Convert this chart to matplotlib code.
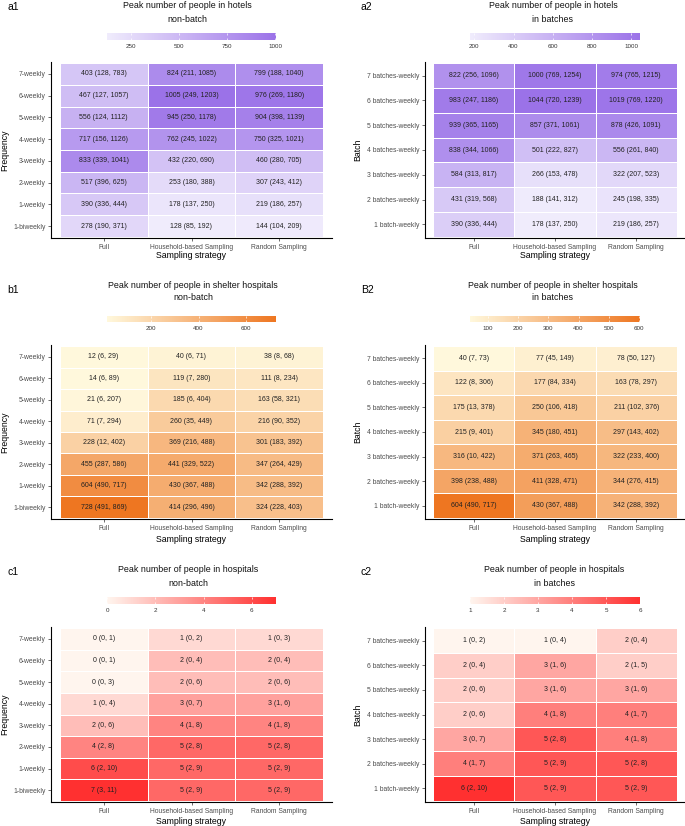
import matplotlib
matplotlib.use("Agg")
import matplotlib.pyplot as plt
import numpy as np
from matplotlib.colors import LinearSegmentedColormap, Normalize

plt.rcParams['font.family'] = ['Liberation Sans', 'DejaVu Sans']

W, H = 685, 826

strategies = ["Full", "Household-based Sampling", "Random Sampling"]
freq_labels = ["7-weekly", "6-weekly", "5-weekly", "4-weekly",
               "3-weekly", "2-weekly", "1-weekly", "1-biweekly"]
batch_labels = ["7 batches-weekly", "6 batches-weekly", "5 batches-weekly",
                "4 batches-weekly", "3 batches-weekly", "2 batches-weekly",
                "1 batch-weekly"]

# rows listed top to bottom, columns = strategies
hotel_nb_est = [[403, 824, 799], [467, 1005, 976], [556, 945, 904], [717, 762, 750],
                [833, 432, 460], [517, 253, 307], [390, 178, 219], [278, 128, 144]]
hotel_nb_lo = [[128, 211, 188], [127, 249, 269], [124, 250, 398], [156, 245, 325],
               [339, 220, 280], [396, 180, 243], [336, 137, 186], [190, 85, 104]]
hotel_nb_hi = [[783, 1085, 1040], [1057, 1203, 1180], [1112, 1178, 1139], [1126, 1022, 1021],
               [1041, 690, 705], [625, 388, 412], [444, 250, 257], [371, 192, 209]]

hotel_b_est = [[822, 1000, 974], [983, 1044, 1019], [939, 857, 878], [838, 501, 556],
               [584, 266, 322], [431, 188, 245], [390, 178, 219]]
hotel_b_lo = [[256, 769, 765], [247, 720, 769], [365, 371, 426], [344, 222, 261],
              [313, 153, 207], [319, 141, 198], [336, 137, 186]]
hotel_b_hi = [[1096, 1254, 1215], [1186, 1239, 1220], [1165, 1061, 1091], [1066, 827, 840],
              [817, 478, 523], [568, 312, 335], [444, 250, 257]]

shelter_nb_est = [[12, 40, 38], [14, 119, 111], [21, 185, 163], [71, 260, 216],
                  [228, 369, 301], [455, 441, 347], [604, 430, 342], [728, 414, 324]]
shelter_nb_lo = [[6, 6, 8], [6, 7, 8], [6, 6, 58], [7, 35, 90],
                 [12, 216, 183], [287, 329, 264], [490, 367, 288], [491, 296, 228]]
shelter_nb_hi = [[29, 71, 68], [89, 280, 234], [207, 404, 321], [294, 449, 352],
                 [402, 488, 392], [586, 522, 429], [717, 488, 392], [869, 496, 403]]

shelter_b_est = [[40, 77, 78], [122, 177, 163], [175, 250, 211], [215, 345, 297],
                 [316, 371, 322], [398, 411, 344], [604, 430, 342]]
shelter_b_lo = [[7, 45, 50], [8, 84, 78], [13, 106, 102], [9, 180, 143],
                [10, 263, 233], [238, 328, 276], [490, 367, 288]]
shelter_b_hi = [[73, 149, 127], [306, 334, 297], [378, 418, 376], [401, 451, 402],
                [422, 465, 400], [488, 471, 415], [717, 488, 392]]

hosp_nb_est = [[0, 1, 1], [0, 2, 2], [0, 2, 2], [1, 3, 3],
               [2, 4, 4], [4, 5, 5], [6, 5, 5], [7, 5, 5]]
hosp_nb_lo = [[0, 0, 0], [0, 0, 0], [0, 0, 0], [0, 0, 1],
              [0, 1, 1], [2, 2, 2], [2, 2, 2], [3, 2, 2]]
hosp_nb_hi = [[1, 2, 3], [1, 4, 4], [3, 6, 6], [4, 7, 6],
              [6, 8, 8], [8, 8, 8], [10, 9, 9], [11, 9, 9]]

hosp_b_est = [[1, 1, 2], [2, 3, 2], [2, 3, 3], [2, 4, 4],
              [3, 5, 4], [4, 5, 5], [6, 5, 5]]
hosp_b_lo = [[0, 0, 0], [0, 1, 1], [0, 1, 1], [0, 1, 1],
             [0, 2, 1], [1, 2, 2], [2, 2, 2]]
hosp_b_hi = [[2, 4, 4], [4, 6, 5], [6, 6, 6], [6, 8, 7],
             [7, 8, 8], [7, 9, 8], [10, 9, 9]]

purple = ("#F0ECFC", "#9B72E8")
orange = ("#FFF8DC", "#EE7621")
red = ("#FFF5EE", "#FF3030")

fig = plt.figure(figsize=(W / 100, H / 100), dpi=100)
fig.patch.set_facecolor("white")


def px_rect(x0, y0, x1, y1):
    return [x0 / W, 1 - y1 / H, (x1 - x0) / W, (y1 - y0) / H]


def ftext(x, y, s, **kw):
    fig.text(x / W, 1 - y / H, s, **kw)


col_x = [(51, 332), (425, 685)]
cbar_x = [(107, 276), (470, 640)]
row_y = [(62, 238), (345, 519), (627, 802)]
title_y = [(6, 19), (285, 298), (569, 583)]
cbar_y = [(33, 40), (316, 322), (597, 604)]
tag_y = [7, 290, 572]
xlab_y = [256, 539, 821]


def panel(col, row, tag, t1, t2, title_cx, ylabels, est, lo, hi, colors, ticks, ylab):
    est = np.array(est)
    lo = np.array(lo)
    hi = np.array(hi)
    n = len(ylabels)
    cmap = LinearSegmentedColormap.from_list(tag, list(colors))
    norm = Normalize(vmin=est.min(), vmax=est.max())

    ax = fig.add_axes(px_rect(col_x[col][0], row_y[row][0], col_x[col][1], row_y[row][1]))
    z = est[::-1]
    mesh = ax.pcolormesh(np.arange(4) - 0.5, np.arange(n + 1) - 0.5, z, cmap=cmap, norm=norm,
                         edgecolors="white", linewidth=0.4)
    for i in range(n):
        for j in range(3):
            ax.text(j, n - 1 - i, "%d (%d, %d)" % (est[i, j], lo[i, j], hi[i, j]),
                    ha="center", va="center", fontsize=5, color="#222222")
    ax.set_xlim(-0.6, 2.6)
    ax.set_ylim(-0.55, n - 0.45)
    ax.set_xticks(range(3))
    ax.set_xticklabels(strategies)
    ax.set_yticks(range(n))
    ax.set_yticklabels(ylabels[::-1])
    for s in ["top", "right"]:
        ax.spines[s].set_visible(False)
    for s in ["left", "bottom"]:
        ax.spines[s].set_linewidth(0.8)
    ax.tick_params(length=2.5, width=0.5, color="#333333", labelsize=4.9,
                   labelcolor="#4D4D4D", pad=1.5)

    cax = fig.add_axes(px_rect(cbar_x[col][0], cbar_y[row][0], cbar_x[col][1], cbar_y[row][1]))
    cb = fig.colorbar(mesh, cax=cax, orientation="horizontal", ticks=ticks)
    cb.outline.set_visible(False)
    cax.xaxis.set_ticks_position("both")
    cax.tick_params(direction="in", length=1.5, width=0.5, color="white",
                    labelsize=4.5, labelcolor="#333333", pad=3, labeltop=False)

    cx = (col_x[col][0] + col_x[col][1]) / 2
    ftext(title_cx, title_y[row][0], t1, ha="center", va="center", fontsize=6.4, color="#111111")
    ftext(title_cx, title_y[row][1], t2, ha="center", va="center", fontsize=6.4, color="#111111")
    ftext(7 if col == 0 else 361, tag_y[row], tag, ha="left", va="center", fontsize=7.5)
    ftext(cx, xlab_y[row], "Sampling strategy", ha="center", va="center", fontsize=6.3)
    ftext(5 if col == 0 else 358, (row_y[row][0] + row_y[row][1]) / 2, ylab,
          ha="center", va="center", rotation=90, fontsize=6.3)


panel(0, 0, "a1", "Peak number of people in hotels", "non-batch", 187, freq_labels,
      hotel_nb_est, hotel_nb_lo, hotel_nb_hi, purple, [250, 500, 750, 1000], "Frequency")
panel(1, 0, "a2", "Peak number of people in hotels", "in batches", 553, batch_labels,
      hotel_b_est, hotel_b_lo, hotel_b_hi, purple, [200, 400, 600, 800, 1000], "Batch")
panel(0, 1, "b1", "Peak number of people in shelter hospitals", "non-batch", 193, freq_labels,
      shelter_nb_est, shelter_nb_lo, shelter_nb_hi, orange, [200, 400, 600], "Frequency")
panel(1, 1, "B2", "Peak number of people in shelter hospitals", "in batches", 553, batch_labels,
      shelter_b_est, shelter_b_lo, shelter_b_hi, orange, [100, 200, 300, 400, 500, 600], "Batch")
panel(0, 2, "c1", "Peak number of people in hospitals", "non-batch", 188, freq_labels,
      hosp_nb_est, hosp_nb_lo, hosp_nb_hi, red, [0, 2, 4, 6], "Frequency")
panel(1, 2, "c2", "Peak number of people in hospitals", "in batches", 554, batch_labels,
      hosp_b_est, hosp_b_lo, hosp_b_hi, red, [1, 2, 3, 4, 5, 6], "Batch")

fig.savefig("out.png", dpi=100)
